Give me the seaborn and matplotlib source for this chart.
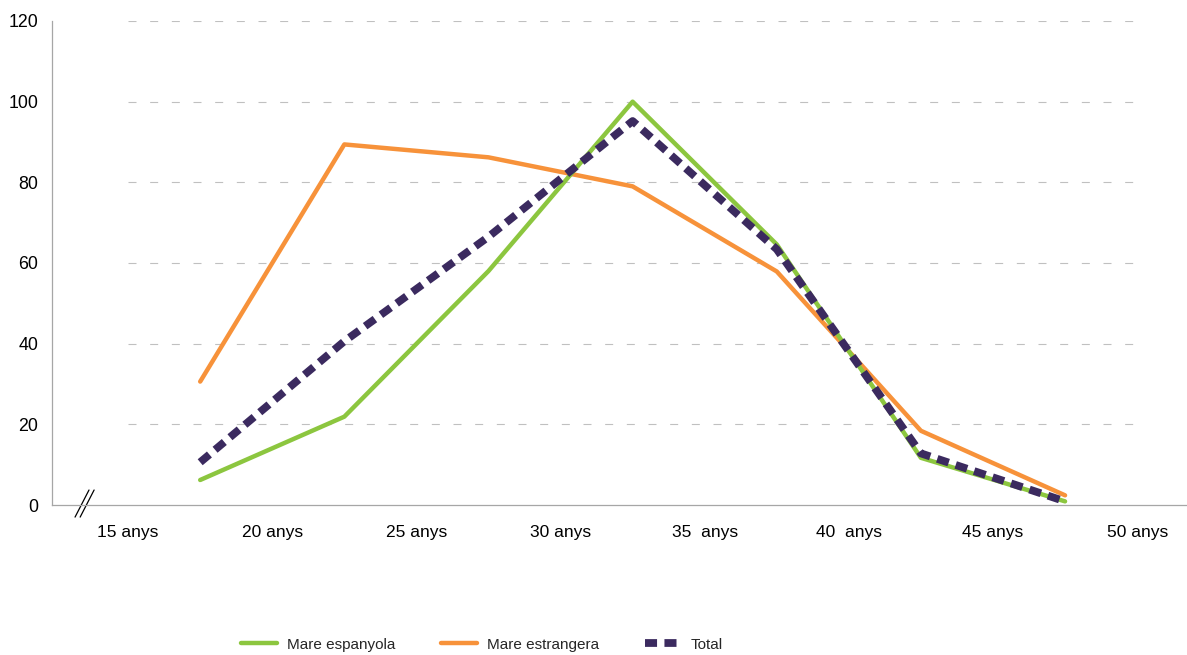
"""
Births by mother's age group: Spanish vs foreign mothers, with total
"""

import matplotlib
matplotlib.use("Agg")
import matplotlib.pyplot as plt
import pandas as pd
import seaborn as sns

# Age-group midpoints (15-19, 20-24, ... 45-49)
age_mid = [17.5, 22.5, 27.5, 32.5, 37.5, 42.5, 47.5]

mare_espanyola = [6.2, 21.9, 58.0, 100.0, 64.6, 11.7, 0.9]
mare_estrangera = [30.6, 89.4, 86.2, 79.0, 57.9, 18.4, 2.4]
total = [10.6, 40.6, 66.5, 95.2, 63.4, 12.8, 0.9]

tick_ages = [15, 20, 25, 30, 35, 40, 45, 50]
tick_labels = ["15 anys", "20 anys", "25 anys", "30 anys",
               "35  anys", "40  anys", "45 anys", "50 anys"]
y_ticks = [0, 20, 40, 60, 80, 100, 120]

sns.set_style("white")
plt.rcParams["font.family"] = ["Liberation Sans", "DejaVu Sans"]
plt.rcParams["font.size"] = 12.5

AXIS_GREY = "#A6A6A6"

fig = plt.figure(figsize=(11.87, 6.55), dpi=100)
ax = fig.add_axes([52 / 1187, 1 - 505 / 655, 1 - 52 / 1187, (505 - 21) / 655])

# dashed horizontal grid, only across the age range
ax.hlines(y_ticks[1:], tick_ages[0], tick_ages[-1], colors="#C0C0C0",
          linewidth=0.8, linestyles=(0, (7.2, 12.3)), zorder=0)

data = pd.DataFrame({"edat": age_mid,
                     "Mare espanyola": mare_espanyola,
                     "Mare estrangera": mare_estrangera,
                     "Total": total})

sns.lineplot(data=data, x="edat", y="Mare espanyola", color="#8CC63F",
             linewidth=3.2, label="Mare espanyola", ax=ax, zorder=3)
sns.lineplot(data=data, x="edat", y="Mare estrangera", color="#F7923A",
             linewidth=3.2, label="Mare estrangera", ax=ax, zorder=2)
sns.lineplot(data=data, x="edat", y="Total", color="#3B2A5F",
             linewidth=5.6, linestyle=(0, (1.55, 0.95)), label="Total",
             ax=ax, zorder=4)

ax.set_xlim(12.36, 51.73)
ax.set_ylim(0, 120)
ax.set_xticks(tick_ages)
ax.set_xticklabels(tick_labels)
ax.set_yticks(y_ticks)
ax.set_xlabel("")
ax.set_ylabel("")

for side in ["top", "right"]:
    ax.spines[side].set_visible(False)
for side in ["left", "bottom"]:
    ax.spines[side].set_color(AXIS_GREY)
    ax.spines[side].set_linewidth(0.9)

ax.tick_params(axis="y", direction="inout", length=4, width=0.8,
               pad=8, labelsize=12.8)
ax.tick_params(axis="x", direction="out", length=3.6, width=0.8,
               pad=11, labelsize=12.5)
ax.tick_params(color=AXIS_GREY, labelcolor="black")

# axis break mark "//"
for dx in (0.0, 0.0045):
    ax.plot([0.0203 + dx, 0.0326 + dx], [-0.025, 0.031], color="black",
            linewidth=0.9, transform=ax.transAxes, clip_on=False)

ax.legend(loc="lower center", bbox_to_anchor=(0.406, -0.016),
          bbox_transform=fig.transFigure, ncol=3, frameon=False,
          handlelength=2.35, handletextpad=0.65, columnspacing=3.0,
          fontsize=11)

fig.savefig("out.png", dpi=100)
plt.close(fig)
